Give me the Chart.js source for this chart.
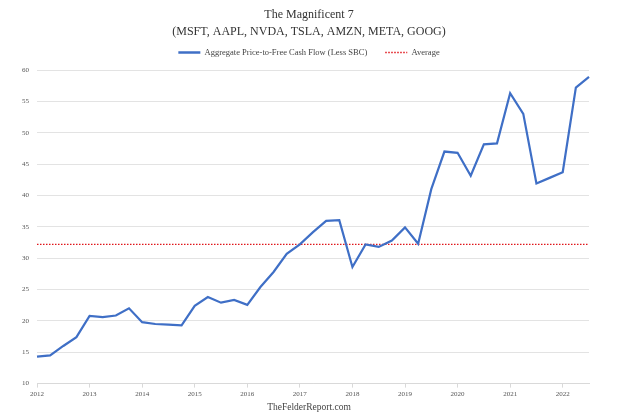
<!DOCTYPE html>
<html>
<head>
<meta charset="utf-8">
<script src="https://cdn.jsdelivr.net/npm/chart.js@4"></script>
<style>
html,body{margin:0;padding:0;background:#fff;}
#wrap{width:640px;height:417px;position:relative;}
canvas{display:block;}
</style>
</head>
<body>
<div id="wrap"><canvas id="c" width="640" height="417"></canvas></div>
<script>
const titleLines = ['The Magnificent 7', '(MSFT, AAPL, NVDA, TSLA, AMZN, META, GOOG)'];
const footerText = 'TheFelderReport.com';
const seriesName = 'Aggregate Price-to-Free Cash Flow (Less SBC)';
const averageName = 'Average';

const quarters = [
  '2012 Q1','2012 Q2','2012 Q3','2012 Q4',
  '2013 Q1','2013 Q2','2013 Q3','2013 Q4',
  '2014 Q1','2014 Q2','2014 Q3','2014 Q4',
  '2015 Q1','2015 Q2','2015 Q3','2015 Q4',
  '2016 Q1','2016 Q2','2016 Q3','2016 Q4',
  '2017 Q1','2017 Q2','2017 Q3','2017 Q4',
  '2018 Q1','2018 Q2','2018 Q3','2018 Q4',
  '2019 Q1','2019 Q2','2019 Q3','2019 Q4',
  '2020 Q1','2020 Q2','2020 Q3','2020 Q4',
  '2021 Q1','2021 Q2','2021 Q3','2021 Q4',
  '2022 Q1','2022 Q2','2022 Q3'
];

const pfcf = [
  14.3, 14.5, 16.0, 17.4,
  20.8, 20.6, 20.85, 22.0,
  19.8, 19.5, 19.4, 19.3,
  22.4, 23.8, 22.9, 23.35,
  22.55, 25.4, 27.8, 30.7,
  32.2, 34.15, 35.95, 36.05,
  28.6, 32.2, 31.8, 32.8,
  34.9, 32.3, 41.0, 47.0,
  46.8, 43.15, 48.15, 48.3,
  56.3, 53.0, 41.9, 42.8,
  43.7, 57.2, 58.9
];

const averageValue = 32.2;

const yTicks = { min: 10, max: 60, step: 5 };

const serif = "'Liberation Serif', 'DejaVu Serif', serif";

const legendFont = 8.5;
const legendPad = 18;

// Header/footer centred slightly left of the canvas centre, legend placed under the title
const headerTweak = {
  id: 'headerTweak',
  beforeLayout(chart) {
    const lg = chart.legend;
    if (lg && !lg._fitWrapped) {
      const f = lg.fit.bind(lg);
      lg.fit = function () { f(); this.height = 29.5; };
      lg._fitWrapped = true;
    }
  },
  afterLayout(chart) {
    chart.boxes.forEach(b => {
      if (b.axis) return;
      b.left = 0; b.right = 618; b.width = 618;
    });
    const lg = chart.legend;
    if (lg) {
      const shift = 52.5 - (lg.top + legendPad + legendFont / 2);
      lg.top += shift;
    }
  }
};

new Chart(document.getElementById('c'), {
  type: 'line',
  data: {
    labels: quarters,
    datasets: [
      {
        label: seriesName,
        data: pfcf,
        borderColor: '#3F6FC6',
        backgroundColor: '#3F6FC6',
        borderWidth: 2.2,
        pointRadius: 0,
        tension: 0,
        fill: false
      },
      {
        label: averageName,
        data: quarters.map(() => averageValue),
        borderColor: '#E0161B',
        backgroundColor: '#E0161B',
        borderWidth: 1.4,
        borderDash: [1.5, 1.5],
        pointRadius: 0,
        fill: false
      }
    ]
  },
  plugins: [headerTweak],
  options: {
    responsive: false,
    animation: false,
    devicePixelRatio: 1,
    layout: { padding: { left: 0, right: 51, top: 4, bottom: 4 } },
    plugins: {
      title: {
        display: true,
        text: titleLines,
        color: '#333',
        font: { family: serif, size: 12, weight: 'normal', lineHeight: 17 / 12 },
        padding: { top: 2.5, bottom: 0 }
      },
      subtitle: {
        display: true,
        position: 'bottom',
        text: footerText,
        color: '#444',
        font: { family: serif, size: 9.5, weight: 'normal' },
        padding: { top: 0, bottom: 0 }
      },
      legend: {
        display: true,
        position: 'top',
        labels: {
          color: '#444',
          font: { family: serif, size: legendFont },
          usePointStyle: true,
          pointStyleWidth: 22,
          boxHeight: 7,
          padding: legendPad,
          generateLabels(chart) {
            return chart.data.datasets.map((ds, i) => ({
              text: ds.label,
              fillStyle: ds.borderColor,
              strokeStyle: ds.borderColor,
              lineWidth: i === 0 ? 2.4 : 1.4,
              lineDash: ds.borderDash || [],
              pointStyle: 'line',
              fontColor: '#444',
              hidden: false,
              datasetIndex: i
            }));
          }
        }
      },
      tooltip: { enabled: false }
    },
    scales: {
      x: {
        type: 'category',
        offset: false,
        grid: {
          drawOnChartArea: false,
          drawTicks: true,
          tickLength: 4,
          color: (ctx) => (ctx.index % 4 === 0 ? '#d9d9d9' : 'rgba(0,0,0,0)')
        },
        border: { display: true, color: '#d9d9d9' },
        ticks: {
          autoSkip: false,
          maxRotation: 0,
          minRotation: 0,
          padding: 2,
          color: '#555',
          font: { family: serif, size: 7 },
          callback(value) {
            const l = this.getLabelForValue(value);
            return l.endsWith('Q1') ? l.slice(0, 4) : '';
          }
        },
        afterFit(scale) { scale.height = 18; }
      },
      y: {
        min: yTicks.min,
        max: yTicks.max,
        grid: { color: '#e3e3e3', drawTicks: false, lineWidth: 1 },
        border: { display: false },
        ticks: {
          stepSize: yTicks.step,
          padding: 8,
          color: '#555',
          font: { family: serif, size: 7 }
        },
        afterFit(scale) { scale.width = 37; }
      }
    }
  }
});
</script>
</body>
</html>
